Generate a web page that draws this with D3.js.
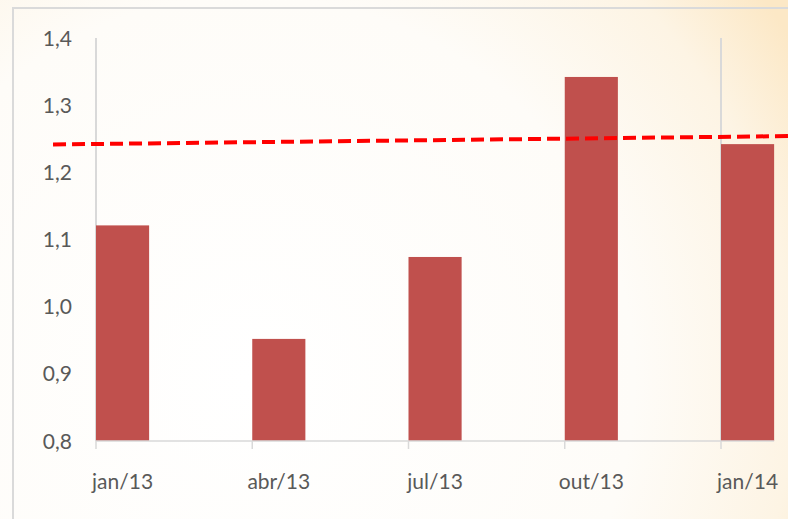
<!DOCTYPE html>
<html>
<head>
<meta charset="utf-8">
<script src="https://cdn.jsdelivr.net/npm/d3@7"></script>
<style>
  html, body { margin: 0; padding: 0; }
  body { width: 788px; height: 519px; overflow: hidden; }
</style>
</head>
<body>
<div id="chart"></div>
<script>
// quarters and values
const categories = ["jan/13", "abr/13", "jul/13", "out/13", "jan/14"];
const values = [1.121, 0.952, 1.074, 1.342, 1.242];
const yTicks = [0.8, 0.9, 1.0, 1.1, 1.2, 1.3, 1.4];
// dashed trend line, in quarter-index units
const trendPoints = [{ q: -0.275, v: 1.2415 }, { q: 4.45, v: 1.254 }];
// yearly gridlines
const gridQuarters = [0, 4];

const width = 788, height = 519;

const svg = d3.select("#chart").append("svg")
    .attr("width", width).attr("height", height);

// background: soft radial gradient, peach only towards the right edge
const defs = svg.append("defs");
const grad = defs.append("radialGradient")
    .attr("id", "bg")
    .attr("gradientUnits", "userSpaceOnUse")
    .attr("cx", 250).attr("cy", 380).attr("r", 640);
grad.append("stop").attr("offset", "0%").attr("stop-color", "#ffffff");
grad.append("stop").attr("offset", "60%").attr("stop-color", "#fefcf8");
grad.append("stop").attr("offset", "85%").attr("stop-color", "#fdf4e4");
grad.append("stop").attr("offset", "100%").attr("stop-color", "#fce8c6");
svg.append("rect").attr("width", width).attr("height", height).attr("fill", "url(#bg)");

// chart area border (runs off right and bottom)
svg.append("rect")
    .attr("x", 13).attr("y", 8)
    .attr("width", 800).attr("height", 540)
    .attr("fill", "none")
    .attr("stroke", "#dadada")
    .attr("stroke-width", 2);

const x = d3.scaleLinear().domain([0, 4]).range([96, 721]);
const y = d3.scaleLinear().domain([0.8, 1.4]).range([441, 38]);
const barW = x(0.34) - x(0);

// vertical gridlines
svg.selectAll(".grid")
    .data(gridQuarters)
    .join("line")
    .attr("x1", d => x(d)).attr("x2", d => x(d))
    .attr("y1", y(1.4)).attr("y2", y(0.8))
    .attr("stroke", "#d9d9d9").attr("stroke-width", 2);

// bars
svg.selectAll(".bar")
    .data(values)
    .join("rect")
    .attr("x", (d, i) => x(i))
    .attr("y", d => y(d))
    .attr("width", barW)
    .attr("height", d => y(0.8) - y(d))
    .attr("fill", "#c0504d");

// x axis line and ticks
svg.append("line")
    .attr("x1", x(0)).attr("x2", x(4) + barW)
    .attr("y1", y(0.8)).attr("y2", y(0.8))
    .attr("stroke", "#d9d9d9").attr("stroke-width", 1.5);
svg.selectAll(".xtick")
    .data(categories)
    .join("line")
    .attr("x1", (d, i) => x(i)).attr("x2", (d, i) => x(i))
    .attr("y1", y(0.8)).attr("y2", y(0.8) + 8)
    .attr("stroke", "#d9d9d9").attr("stroke-width", 1.5);

// x labels, centred on bars
svg.selectAll(".xlabel")
    .data(categories)
    .join("text")
    .attr("x", (d, i) => x(i) + barW / 2)
    .attr("y", 489)
    .attr("text-anchor", "middle")
    .attr("font-family", "Lato, 'Open Sans', sans-serif")
    .attr("font-size", "21px")
    .attr("fill", "#595959")
    .text(d => d);

// y labels
const fmt = v => d3.format(".1f")(v).replace(".", ",");
svg.selectAll(".ylabel")
    .data(yTicks)
    .join("text")
    .attr("x", 72)
    .attr("y", d => y(d))
    .attr("dy", "0.36em")
    .attr("text-anchor", "end")
    .attr("font-family", "Lato, 'Open Sans', sans-serif")
    .attr("font-size", "21px")
    .attr("fill", "#595959")
    .text(fmt);

// dashed trend line
const line = d3.line().x(d => x(d.q)).y(d => y(d.v));
svg.append("path")
    .datum(trendPoints)
    .attr("d", line)
    .attr("fill", "none")
    .attr("stroke", "#ff0000")
    .attr("stroke-width", 4)
    .attr("stroke-dasharray", "13,6");
</script>
</body>
</html>
